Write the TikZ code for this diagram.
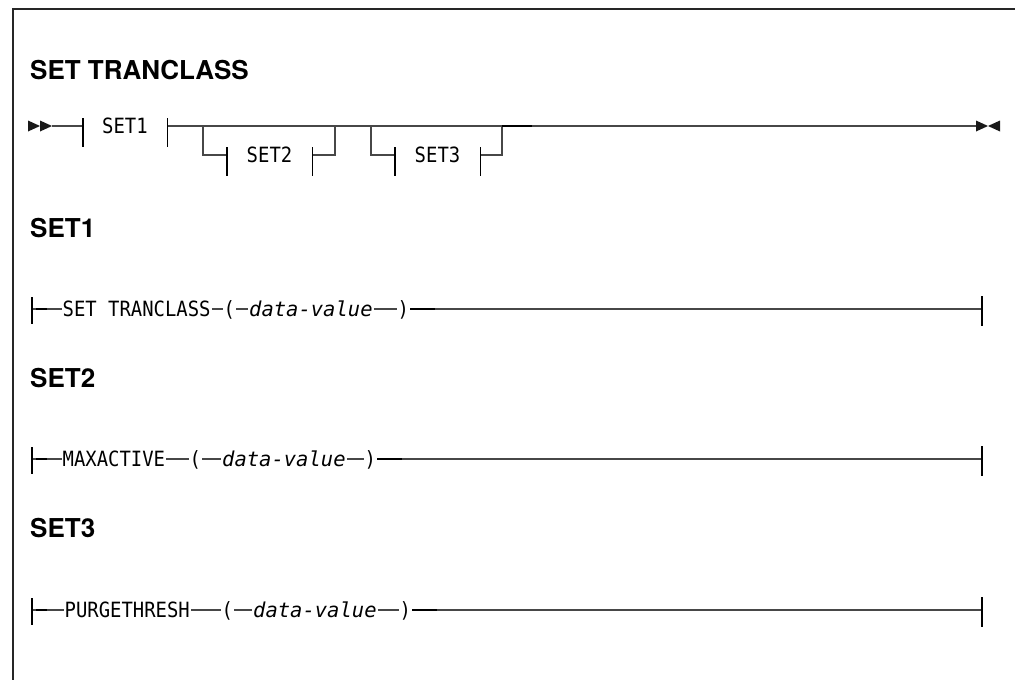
\documentclass[tikz,border=0pt]{standalone}
\usepackage{fontspec}
\setmonofont{DejaVu Sans Mono}[FakeStretch=0.9]
\newfontfamily\varfont{DejaVu Sans Mono Oblique}
\newfontfamily\headfont{TeX Gyre Heros}
\begin{document}
\begin{tikzpicture}[x=1pt,y=-1pt,
  frame/.style={draw=black!85, line width=1.4pt},
  line/.style={draw=black!72, line width=1.1pt},
  tick/.style={draw=black, line width=1.4pt},
  heavy/.style={draw=black, line width=1.3pt},
  head/.style={anchor=base west, inner sep=0pt, font=\headfont\bfseries\fontsize{26}{26}\selectfont},
  kw/.style={anchor=west, inner xsep=1pt, inner ysep=0pt, text height=15.3pt, text depth=0pt, font=\ttfamily\fontsize{21}{21}\selectfont},
  var/.style={kw, font=\varfont\fontsize{20.5}{21}\selectfont},
  ref/.style={anchor=center, inner xsep=0pt, inner ysep=0pt, text height=15.3pt, text depth=0pt, font=\ttfamily\fontsize{21}{21}\selectfont},
  arr/.style={fill=black!90, draw=none}]
\useasboundingbox (0,0) rectangle (1015,680);
\draw[frame] (1015,9) -- (13,9) -- (13,680);

% ---------- main diagram ----------
\node[head] (h0) at (30,79) {SET TRANCLASS};
\fill[arr] (28,120.5) -- (40,126) -- (28,131.5) -- cycle;
\fill[arr] (40,120.5) -- (52,126) -- (40,131.5) -- cycle;
\coordinate (a0) at (52,126);
\node[ref, minimum width=84pt] (f1) at (125,126) {SET1};
\node[ref, minimum width=85pt] (f2) at (269.5,155) {SET2};
\node[ref, minimum width=85pt] (f3) at (437.5,155) {SET3};
\coordinate (b2a) at (203,126);
\coordinate (b2b) at (335,126);
\coordinate (b3a) at (371,126);
\coordinate (b3b) at (502,126);
\coordinate (e0) at (976,126);
\draw[line] (a0) -- (f1.west);
\draw[line] (f1.east) -- (e0);
\draw[line] (b2a) |- (f2.west);
\draw[line] (f2.east) -| (b2b);
\draw[line] (b3a) |- (f3.west);
\draw[line] (f3.east) -| (b3b);
\draw[heavy] (b3b) -- ++(30,0);
\foreach \f in {f1,f2,f3}{
  \draw[tick] ([yshift=8pt]\f.west) -- ([yshift=-21pt]\f.west);
  \draw[tick] ([yshift=8pt]\f.east) -- ([yshift=-21pt]\f.east);
}
\fill[arr] (976,120.5) -- (988,126) -- (976,131.5) -- cycle;
\fill[arr] (1000,120.5) -- (988,126) -- (1000,131.5) -- cycle;

% ---------- SET1 ----------
\node[head] (h1) at (30,237) {SET1};
\coordinate (s1) at (32,309);
\node[kw] (k1) at (61.5,309) {SET TRANCLASS};
\node[kw] (p1) at (222.5,309) {(};
\node[var] (d1) at (248,309) {data-value};
\node[kw] (q1) at (396.5,309) {)};
\coordinate (z1) at (982,309);
\draw[line] (s1) -- (k1.west);
\draw[line] (k1.east) -- (p1.west);
\draw[line] (p1.east) -- (d1.west);
\draw[line] (d1.east) -- (q1.west);
\draw[line] (q1.east) -- (z1);
\draw[heavy] ([xshift=4pt]s1) -- ++(11,0);
\draw[heavy] (q1.east) -- ++(25,0);
\draw[tick] ([yshift=12pt]s1) -- ([yshift=-15pt]s1);
\draw[tick] ([yshift=13pt]z1) -- ([yshift=-17pt]z1);

% ---------- SET2 ----------
\node[head] (h2) at (30,387) {SET2};
\coordinate (s2) at (32,459);
\node[kw] (k2) at (61.5,459) {MAXACTIVE};
\node[kw] (p2) at (188.5,459) {(};
\node[var] (d2) at (221,459) {data-value};
\node[kw] (q2) at (363.5,459) {)};
\coordinate (z2) at (982,459);
\draw[line] (s2) -- (k2.west);
\draw[line] (k2.east) -- (p2.west);
\draw[line] (p2.east) -- (d2.west);
\draw[line] (d2.east) -- (q2.west);
\draw[line] (q2.east) -- (z2);
\draw[heavy] ([xshift=4pt]s2) -- ++(11,0);
\draw[heavy] (q2.east) -- ++(25,0);
\draw[tick] ([yshift=12pt]s2) -- ([yshift=-15pt]s2);
\draw[tick] ([yshift=13pt]z2) -- ([yshift=-17pt]z2);

% ---------- SET3 ----------
\node[head] (h3) at (30,537) {SET3};
\coordinate (s3) at (32,610);
\node[kw] (k3) at (63.5,610) {PURGETHRESH};
\node[kw] (p3) at (220.5,610) {(};
\node[var] (d3) at (252,610) {data-value};
\node[kw] (q3) at (398.5,610) {)};
\coordinate (z3) at (982,610);
\draw[line] (s3) -- (k3.west);
\draw[line] (k3.east) -- (p3.west);
\draw[line] (p3.east) -- (d3.west);
\draw[line] (d3.east) -- (q3.west);
\draw[line] (q3.east) -- (z3);
\draw[heavy] ([xshift=4pt]s3) -- ++(11,0);
\draw[heavy] (q3.east) -- ++(25,0);
\draw[tick] ([yshift=12pt]s3) -- ([yshift=-15pt]s3);
\draw[tick] ([yshift=13pt]z3) -- ([yshift=-17pt]z3);
\end{tikzpicture}
\end{document}
